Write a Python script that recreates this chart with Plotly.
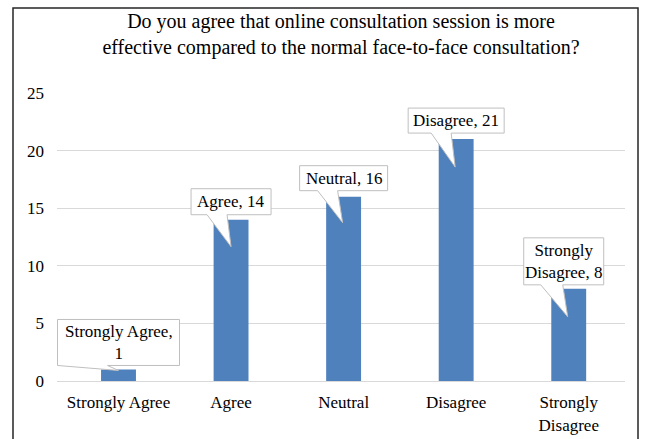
import plotly.graph_objects as go

categories = ["Strongly Agree", "Agree", "Neutral", "Disagree", "Strongly Disagree"]
tick_text = ["Strongly Agree", "Agree", "Neutral", "Disagree", "Strongly<br>Disagree"]
counts = [1, 14, 16, 21, 8]
label_text = ["Strongly Agree,<br>1", "Agree, 14", "Neutral, 16", "Disagree, 21", "Strongly<br>Disagree, 8"]
y_ticks = [0, 5, 10, 15, 20, 25]

# callout geometry (pixels relative to bar top centre; y up positive)
# (left, right, top, bottom, base0, base1, tipx, tipy)
callout_geom = [
    (-61, 61, 50, 4, -61, -11, 0, -1),
    (-40, 40, 31, 5, -24, -4, 0, -27),
    (-44, 44, 31, 6, -26, -6, -1, -26),
    (-48, 48, 31, 6, -25, -5, -1, -28),
    (-45, 35, 51, 4, -28, -6, -1, -28),
]

FONT = "Liberation Serif"
BAR = "#4F81BD"
GRID = "#D9D9D9"

fig = go.Figure()
fig.add_trace(go.Bar(x=categories, y=counts, marker_color=BAR, marker_line_width=0,
                     width=0.31, hoverinfo="skip"))

shapes = []
annotations = []
for cat, val, txt, g in zip(categories, counts, label_text, callout_geom):
    L, R, T, B, b0, b1, tx, ty = g
    path = (f"M{L},{T} L{R},{T} L{R},{B} L{b1},{B} L{tx},{ty} "
            f"L{b0},{B} L{L},{B} Z")
    shapes.append(dict(type="path", xref="x", yref="y", xsizemode="pixel", ysizemode="pixel",
                       xanchor=cat, yanchor=val, path=path, fillcolor="white",
                       line=dict(color="#BFBFBF", width=1), layer="above"))
    annotations.append(dict(x=cat, y=val, xref="x", yref="y", text=txt, showarrow=False,
                            xshift=(L + R) / 2, yshift=(T + B) / 2, align="center",
                            xanchor="center", yanchor="middle",
                            font=dict(family=FONT, size=17, color="black")))

# outer chart border
pl, pr, pt, pb = 57, 625, 93, 381
def fx(px):
    return (px - pl) / (pr - pl)
def fy(py):
    return (pb - py) / (pb - pt)
shapes.append(dict(type="rect", xref="paper", yref="paper", x0=fx(13), x1=fx(638),
                   y0=fy(460), y1=fy(8), line=dict(color="#262626", width=1.5),
                   fillcolor="rgba(0,0,0,0)", layer="above"))

fig.update_layout(
    width=646, height=439,
    margin=dict(l=pl, r=646 - pr, t=pt, b=439 - pb, autoexpand=False),
    paper_bgcolor="white", plot_bgcolor="white",
    showlegend=False,
    title=dict(text="Do you agree that online consultation session is more<br>"
                    "effective compared to the normal face-to-face consultation?",
               x=0.5, xanchor="center", xref="paper", y=1 - 28 / 439, yanchor="top",
               yref="container", automargin=False,
               font=dict(family=FONT, size=20, color="black")),
    font=dict(family=FONT, size=17, color="black"),
    xaxis=dict(tickvals=categories, ticktext=tick_text, showgrid=False, showline=True,
               linecolor=GRID, linewidth=1, ticks="", ticklabelstandoff=6, automargin=False,
               tickfont=dict(family=FONT, size=17, color="black")),
    yaxis=dict(range=[0, 25], tickvals=y_ticks, showgrid=True, gridcolor=GRID, gridwidth=1,
               zeroline=False, showline=False, ticks="", ticklabelstandoff=12, automargin=False,
               tickfont=dict(family=FONT, size=17, color="black")),
    bargap=0.69,
    shapes=shapes,
    annotations=annotations,
)

fig.write_html("out.html")
